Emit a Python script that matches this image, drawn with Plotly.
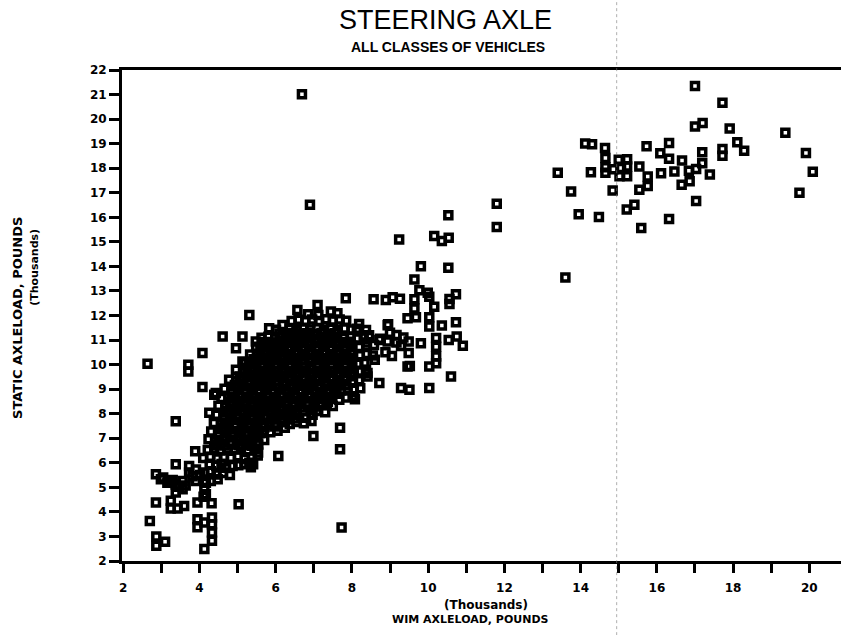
import plotly.graph_objects as go

# Steering axle loads, thousands of pounds: (WIM load, static load)

# sparse points and small cluster at the light end
light_axles = [
    (2.64, 10.03), (3.71, 9.99), (3.71, 9.72), (4.08, 10.47), (4.08, 9.09),
    (3.38, 7.69), (3.38, 5.94), (3.89, 6.47), (2.86, 5.53), (2.99, 5.33),
    (3.05, 5.40), (3.16, 5.19), (3.23, 5.24), (3.38, 5.12), (3.38, 4.79),
    (3.56, 5.26), (3.56, 4.92), (3.73, 5.60), (3.73, 5.87), (3.91, 5.73),
    (3.91, 5.26), (4.13, 5.60), (4.30, 5.66), (4.30, 5.26), (4.13, 4.92),
    (4.13, 5.26), (4.48, 5.33), (4.17, 5.19), (4.17, 4.72), (4.11, 4.62),
    (2.86, 4.38), (2.70, 3.63), (2.87, 3.00), (2.87, 2.62), (3.10, 2.78),
    (3.25, 4.45), (3.25, 4.14), (3.43, 4.14), (3.60, 4.24),
    (3.95, 4.38), (4.32, 4.35), (3.95, 3.70), (3.95, 3.37), (4.13, 3.57),
    (4.33, 3.77), (4.33, 3.50), (4.33, 3.16), (4.33, 2.82), (4.13, 2.49),
    (5.03, 4.31), (4.70, 5.80), (4.87, 5.87), (3.47, 5.02), (3.82, 5.45),
    (4.02, 5.50), (3.64, 5.08), (3.30, 5.30),
]

# main body of the distribution
main_body = [
    (4.45, 5.52), (4.62, 5.58), (4.80, 5.50),
    (4.27, 5.92), (4.44, 5.88), (4.58, 5.95), (5.02, 5.90), (5.18, 5.94), (5.35, 5.82), (5.41, 5.94),
    (4.10, 6.20), (4.28, 6.25), (4.47, 6.18), (4.64, 6.24), (4.83, 6.21), (5.01, 6.27),
    (5.19, 6.17), (5.38, 6.22), (5.31, 6.00), (5.53, 6.30),
    (4.22, 6.52), (4.39, 6.58), (4.55, 6.50), (4.74, 6.57), (4.93, 6.54), (5.09, 6.60),
    (5.27, 6.51), (5.45, 6.56), (5.54, 6.42), (5.54, 6.75),
    (4.24, 6.96), (4.41, 6.88), (4.62, 6.92), (4.81, 6.86), (4.99, 6.94), (5.17, 6.89),
    (5.35, 6.95), (5.52, 6.87), (5.70, 6.93),
    (4.31, 7.27), (4.49, 7.21), (4.67, 7.28), (4.86, 7.23), (5.04, 7.29), (5.21, 7.22),
    (5.40, 7.26), (5.57, 7.20), (5.68, 7.30), (5.86, 7.24), (6.05, 7.31), (6.24, 7.43), (5.98, 7.48),
    (4.38, 7.62), (4.57, 7.58), (4.75, 7.64), (4.94, 7.57), (5.11, 7.63), (5.29, 7.59),
    (5.47, 7.61), (5.65, 7.56), (5.83, 7.64), (6.02, 7.60), (6.19, 7.65), (6.37, 7.58),
    (6.55, 7.66), (6.74, 7.61), (6.94, 7.70),
    (4.26, 8.04), (4.45, 7.96), (4.63, 7.92), (4.81, 7.99), (4.99, 7.94), (5.17, 8.00),
    (5.35, 7.93), (5.53, 7.97), (5.71, 7.91), (5.89, 7.98), (6.07, 7.94), (6.25, 8.01),
    (6.43, 7.95), (6.55, 7.98), (6.80, 7.83), (6.97, 7.96), (7.08, 8.11), (7.30, 8.06),
    (4.39, 8.77), (4.50, 8.32), (4.68, 8.28), (4.87, 8.34), (5.05, 8.27), (5.23, 8.33),
    (5.41, 8.29), (5.59, 8.35), (5.77, 8.26), (5.95, 8.31), (6.13, 8.28), (6.31, 8.34),
    (6.49, 8.30), (6.67, 8.25), (6.85, 8.33), (7.03, 8.29), (7.21, 8.35), (7.34, 8.38), (7.50, 8.31),
    (4.43, 8.84), (4.58, 8.64), (4.76, 8.68), (4.93, 8.62), (5.11, 8.69), (5.29, 8.63),
    (5.47, 8.67), (5.65, 8.61), (5.83, 8.68), (6.01, 8.64), (6.19, 8.70), (6.37, 8.62),
    (6.55, 8.66), (6.73, 8.63), (6.91, 8.69), (7.09, 8.65), (7.27, 8.61), (7.45, 8.68),
    (7.67, 8.57), (7.85, 8.66), (8.02, 8.71), (8.08, 8.59),
    (4.66, 9.02), (4.84, 8.97), (5.02, 9.03), (5.19, 8.98), (5.37, 9.04), (5.55, 8.96),
    (5.73, 9.01), (5.91, 8.97), (6.09, 9.04), (6.27, 8.99), (6.45, 9.03), (6.63, 8.96),
    (6.81, 9.02), (6.99, 8.98), (7.17, 9.05), (7.35, 8.97), (7.53, 9.01), (7.71, 8.96),
    (7.89, 9.03), (8.05, 8.98), (8.22, 9.04),
    (4.78, 9.38), (4.97, 9.33), (5.15, 9.37), (5.33, 9.31), (5.51, 9.36), (5.69, 9.32),
    (5.87, 9.38), (6.05, 9.34), (6.23, 9.30), (6.41, 9.37), (6.59, 9.33), (6.77, 9.39),
    (6.95, 9.32), (7.13, 9.36), (7.31, 9.31), (7.49, 9.37), (7.67, 9.33), (7.85, 9.38),
    (8.03, 9.32), (8.19, 9.36), (8.41, 9.52),
    (4.96, 9.79), (5.17, 9.68), (5.35, 9.73), (5.53, 9.67), (5.71, 9.72), (5.89, 9.68),
    (6.07, 9.74), (6.25, 9.69), (6.43, 9.73), (6.61, 9.66), (6.79, 9.71), (6.97, 9.67),
    (7.15, 9.74), (7.33, 9.69), (7.51, 9.72), (7.69, 9.66), (7.87, 9.73), (8.05, 9.68),
    (8.21, 9.72), (8.37, 9.79),
    (5.13, 10.13), (5.20, 10.06), (5.31, 10.02), (5.49, 10.07), (5.67, 10.03), (5.85, 10.08),
    (6.03, 10.01), (6.21, 10.06), (6.39, 10.02), (6.57, 10.08), (6.75, 10.04), (6.93, 10.09),
    (7.11, 10.03), (7.29, 10.07), (7.47, 10.01), (7.65, 10.06), (7.83, 10.02), (8.01, 10.08),
    (8.17, 10.03), (8.33, 10.07),
    (5.33, 10.41), (5.51, 10.37), (5.69, 10.43), (5.87, 10.38), (6.05, 10.42), (6.23, 10.36),
    (6.41, 10.40), (6.59, 10.44), (6.77, 10.38), (6.95, 10.42), (7.13, 10.37), (7.31, 10.43),
    (7.49, 10.39), (7.67, 10.41), (7.85, 10.36), (8.03, 10.42), (8.21, 10.38), (8.39, 10.43),
    (8.55, 10.37),
    (4.96, 10.67), (5.48, 10.94), (5.49, 10.73), (5.67, 10.77), (5.85, 10.72), (6.03, 10.78),
    (6.21, 10.74), (6.39, 10.71), (6.57, 10.77), (6.75, 10.73), (6.93, 10.79), (7.11, 10.72),
    (7.29, 10.76), (7.47, 10.71), (7.65, 10.78), (7.83, 10.74), (8.01, 10.77), (8.19, 10.72),
    (8.38, 10.76), (8.58, 10.80),
    (5.63, 11.09), (5.81, 11.13), (5.99, 11.07), (6.17, 11.12), (6.35, 11.08), (6.53, 11.14),
    (6.71, 11.09), (6.89, 11.13), (7.07, 11.06), (7.25, 11.11), (7.43, 11.07), (7.61, 11.13),
    (7.79, 11.08), (7.97, 11.12), (8.15, 11.06), (8.31, 11.10),
    (5.83, 11.48), (6.01, 11.42), (6.18, 11.61), (6.37, 11.46), (6.55, 11.41), (6.73, 11.47),
    (6.91, 11.43), (7.09, 11.48), (7.27, 11.42), (7.45, 11.46), (7.63, 11.41), (7.81, 11.47),
    (7.99, 11.43), (8.13, 11.46), (8.37, 11.41),
    (6.42, 11.78), (6.60, 11.83), (6.78, 11.79), (6.96, 11.84), (7.14, 11.78), (7.32, 11.85),
    (7.50, 11.80), (7.68, 11.84), (7.85, 11.79), (8.19, 11.65),
    (6.57, 12.22), (6.85, 12.05), (7.10, 12.43), (7.12, 12.02), (7.45, 12.16), (7.62, 12.09),
    (5.31, 12.02), (4.61, 11.14), (5.13, 11.14),
]

# the most crowded part of the main body
dense_core = [
    (4.46, 6.73), (4.66, 6.70), (4.84, 6.75), (5.03, 6.71), (5.21, 6.74), (5.37, 6.69),
    (4.51, 7.08), (4.71, 7.05), (4.89, 7.10), (5.08, 7.07), (5.28, 7.11), (5.45, 7.06),
    (4.58, 7.43), (4.77, 7.41), (4.95, 7.45), (5.15, 7.42), (5.33, 7.44), (5.50, 7.40), (5.71, 7.45),
    (4.66, 7.78), (4.85, 7.76), (5.03, 7.80), (5.23, 7.77), (5.40, 7.79), (5.59, 7.75),
    (5.77, 7.80), (5.95, 7.77), (6.14, 7.79), (6.33, 7.76), (6.49, 7.80),
    (4.71, 8.12), (4.90, 8.14), (5.08, 8.10), (5.27, 8.13), (5.44, 8.11), (5.63, 8.15),
    (5.81, 8.12), (6.00, 8.10), (6.18, 8.14), (6.37, 8.11), (6.55, 8.13), (6.74, 8.10), (6.92, 8.15),
    (4.80, 8.47), (4.98, 8.45), (5.17, 8.49), (5.35, 8.46), (5.54, 8.48), (5.72, 8.44),
    (5.90, 8.49), (6.08, 8.46), (6.27, 8.48), (6.45, 8.45), (6.63, 8.49), (6.82, 8.46),
    (7.00, 8.48), (7.18, 8.45), (7.37, 8.49),
    (4.85, 8.82), (5.03, 8.80), (5.22, 8.84), (5.40, 8.81), (5.58, 8.83), (5.77, 8.80),
    (5.95, 8.84), (6.13, 8.81), (6.32, 8.83), (6.50, 8.79), (6.68, 8.84), (6.86, 8.81),
    (7.05, 8.83), (7.23, 8.80), (7.41, 8.84), (7.60, 8.81),
    (4.93, 9.17), (5.11, 9.15), (5.29, 9.19), (5.46, 9.16), (5.65, 9.18), (5.83, 9.14),
    (6.01, 9.19), (6.20, 9.16), (6.38, 9.18), (6.57, 9.15), (6.75, 9.19), (6.93, 9.16),
    (7.11, 9.18), (7.30, 9.15), (7.48, 9.19), (7.66, 9.16), (7.85, 9.18),
    (5.06, 9.52), (5.24, 9.50), (5.42, 9.54), (5.61, 9.51), (5.79, 9.53), (5.97, 9.50),
    (6.15, 9.54), (6.34, 9.51), (6.52, 9.53), (6.71, 9.49), (6.89, 9.54), (7.07, 9.51),
    (7.25, 9.53), (7.44, 9.50), (7.62, 9.54), (7.80, 9.51), (7.98, 9.53),
    (5.26, 9.87), (5.44, 9.85), (5.63, 9.89), (5.81, 9.86), (5.99, 9.88), (6.17, 9.84),
    (6.36, 9.89), (6.54, 9.86), (6.72, 9.88), (6.91, 9.85), (7.09, 9.89), (7.27, 9.86),
    (7.46, 9.88), (7.64, 9.84), (7.82, 9.89), (8.00, 9.86),
    (5.42, 10.22), (5.60, 10.20), (5.78, 10.24), (5.97, 10.21), (6.15, 10.23), (6.33, 10.19),
    (6.52, 10.24), (6.70, 10.21), (6.88, 10.23), (7.07, 10.20), (7.25, 10.24), (7.43, 10.21),
    (7.62, 10.23), (7.80, 10.19), (7.98, 10.24),
    (5.60, 10.57), (5.78, 10.55), (5.96, 10.59), (6.15, 10.56), (6.33, 10.58), (6.51, 10.54),
    (6.70, 10.59), (6.88, 10.56), (7.06, 10.58), (7.25, 10.55), (7.43, 10.59), (7.61, 10.56),
    (7.80, 10.58), (7.98, 10.55),
    (5.75, 10.92), (5.93, 10.90), (6.12, 10.94), (6.30, 10.91), (6.48, 10.93), (6.67, 10.89),
    (6.85, 10.94), (7.03, 10.91), (7.22, 10.93), (7.40, 10.90), (7.58, 10.94), (7.77, 10.91),
    (7.95, 10.93),
    (6.10, 11.27), (6.28, 11.25), (6.46, 11.29), (6.65, 11.26), (6.83, 11.28), (7.01, 11.24),
    (7.20, 11.29), (7.38, 11.26), (7.56, 11.28),
]

# sparser points below the main body
below_body = [
    (5.68, 7.30), (5.54, 6.75), (6.07, 6.28), (6.99, 7.09), (7.69, 7.43),
    (7.69, 6.55), (7.73, 3.36), (7.34, 8.38),
]

# points between 8 and 11 thousand pounds
mid_range = [
    (7.84, 12.70), (8.57, 12.66), (8.89, 12.63), (9.07, 12.74), (9.26, 12.68),
    (9.64, 12.66), (9.77, 13.03), (9.99, 12.93), (10.73, 12.87), (10.56, 12.67),
    (10.03, 12.76), (9.64, 12.29), (10.16, 12.36), (10.56, 12.47), (9.46, 11.89),
    (9.68, 11.93), (10.03, 11.93), (10.03, 11.55), (10.36, 11.59), (10.73, 11.72),
    (8.94, 11.60), (8.95, 11.64), (9.00, 11.30), (9.17, 11.21), (8.94, 10.94),
    (8.72, 11.00), (8.74, 11.05), (9.17, 10.90), (9.35, 11.10), (9.29, 10.76),
    (9.49, 10.94), (9.49, 10.47), (9.52, 9.94), (9.81, 10.87), (10.21, 11.08),
    (10.21, 10.73), (10.21, 10.33), (10.54, 11.00), (10.75, 11.14), (10.91, 10.77),
    (9.46, 9.92), (10.03, 9.92), (10.21, 10.06), (10.60, 9.52), (8.41, 9.66),
    (8.72, 9.25), (9.29, 9.05), (9.51, 8.98), (10.03, 9.05), (8.39, 10.90),
    (8.88, 10.50), (9.05, 10.35), (8.45, 11.20), (8.60, 10.20),
]

# heavy axles above 11 thousand pounds
heavy_axles = [
    (11.80, 16.55), (11.80, 15.60), (13.60, 13.55), (13.40, 17.81), (13.75, 17.05),
    (13.95, 16.12), (14.48, 16.01), (14.12, 19.01), (14.30, 18.98), (14.64, 18.82),
    (14.65, 18.42), (14.65, 18.04), (14.65, 17.81), (14.27, 17.83), (14.84, 17.09),
    (15.00, 18.34), (15.22, 18.36), (14.86, 17.96), (15.06, 18.01), (15.22, 18.07),
    (15.02, 17.67), (15.22, 17.67), (15.54, 18.07), (15.76, 17.66), (15.76, 17.27),
    (15.54, 17.12), (15.21, 16.32), (15.41, 16.51), (15.59, 15.56), (15.73, 18.89),
    (16.32, 19.03), (16.09, 18.61), (16.32, 18.38), (16.11, 17.79), (16.46, 17.87),
    (16.66, 18.31), (16.84, 17.90), (16.65, 17.33), (16.86, 17.47), (16.32, 15.93),
    (17.03, 17.97), (17.19, 18.20), (17.19, 18.65), (17.39, 17.74), (17.03, 16.66),
    (17.00, 19.70), (17.20, 19.84), (17.00, 21.35), (17.72, 20.67), (17.91, 19.62),
    (17.72, 18.78), (17.72, 18.51), (18.11, 19.06), (18.29, 18.71), (19.37, 19.44),
    (19.91, 18.62), (20.09, 17.86), (19.74, 17.00),
]

# isolated readings
isolated = [
    (6.69, 21.01), (6.90, 16.51), (9.24, 15.10), (10.16, 15.24), (10.36, 15.03),
    (10.54, 15.17), (10.53, 16.08), (9.81, 14.01), (10.53, 13.94), (9.64, 13.47),
]

x_ticks = list(range(2, 21))
x_tick_text = [str(v) if v % 2 == 0 else "" for v in x_ticks]
y_ticks = list(range(2, 23))

points = light_axles + main_body + dense_core + below_body + mid_range + heavy_axles + isolated
wim_load = [p[0] for p in points]
static_load = [p[1] for p in points]

fig = go.Figure(
    go.Scatter(
        x=wim_load,
        y=static_load,
        mode="markers",
        marker=dict(symbol="square-open", size=7, color="black",
                    line=dict(width=3.5, color="black")),
        hoverinfo="x+y",
    )
)

tick_font = dict(family="DejaVu Sans", size=12, color="black", weight="bold")

fig.update_layout(
    width=841,
    height=635,
    margin=dict(l=122, r=0, t=70, b=74),
    paper_bgcolor="white",
    plot_bgcolor="white",
    showlegend=False,
    xaxis=dict(
        range=[1.97, 20.83],
        tickmode="array",
        tickvals=x_ticks,
        ticktext=x_tick_text,
        ticks="outside",
        ticklen=9,
        tickwidth=2.5,
        tickcolor="black",
        showline=True,
        linewidth=3,
        linecolor="black",
        mirror=True,
        showgrid=False,
        zeroline=False,
        tickfont=tick_font,
        ticklabelstandoff=5,
    ),
    yaxis=dict(
        range=[2, 22],
        tickmode="array",
        tickvals=y_ticks,
        ticks="outside",
        ticklen=10,
        tickwidth=2.5,
        tickcolor="black",
        showline=True,
        linewidth=3,
        linecolor="black",
        showgrid=False,
        zeroline=False,
        tickfont=tick_font,
    ),
    annotations=[
        dict(text="STEERING AXLE", xref="paper", yref="paper", x=0.45, y=1.102,
             xanchor="center", yanchor="middle", showarrow=False,
             font=dict(family="Liberation Sans", size=27, color="black")),
        dict(text="ALL CLASSES OF VEHICLES", xref="paper", yref="paper", x=0.453, y=1.047,
             xanchor="center", yanchor="middle", showarrow=False,
             font=dict(family="Liberation Sans", size=14, color="black", weight="bold")),
        dict(text="(Thousands)", xref="paper", yref="paper", x=0.506, y=-0.09,
             xanchor="center", yanchor="middle", showarrow=False,
             font=dict(family="DejaVu Sans", size=12, color="black", weight="bold")),
        dict(text="WIM AXLELOAD, POUNDS", xref="paper", yref="paper", x=0.485, y=-0.12,
             xanchor="center", yanchor="middle", showarrow=False,
             font=dict(family="DejaVu Sans", size=11, color="black", weight="bold")),
        dict(text="STATIC AXLELOAD, POUNDS", xref="paper", yref="paper", x=-0.1446, y=0.495,
             xanchor="center", yanchor="middle", showarrow=False, textangle=-90,
             font=dict(family="DejaVu Sans", size=13, color="black", weight="bold")),
        dict(text="(Thousands)", xref="paper", yref="paper", x=-0.121, y=0.597,
             xanchor="center", yanchor="middle", showarrow=False, textangle=-90,
             font=dict(family="DejaVu Sans", size=11, color="black", weight="bold")),
    ],
    shapes=[
        # fold line running down the sheet
        dict(type="line", xref="paper", yref="paper", x0=0.688, x1=0.688,
             y0=-0.151, y1=1.143, line=dict(color="rgba(120,120,120,0.6)", width=1, dash="dot")),
    ],
)

fig.write_html("out.html")
